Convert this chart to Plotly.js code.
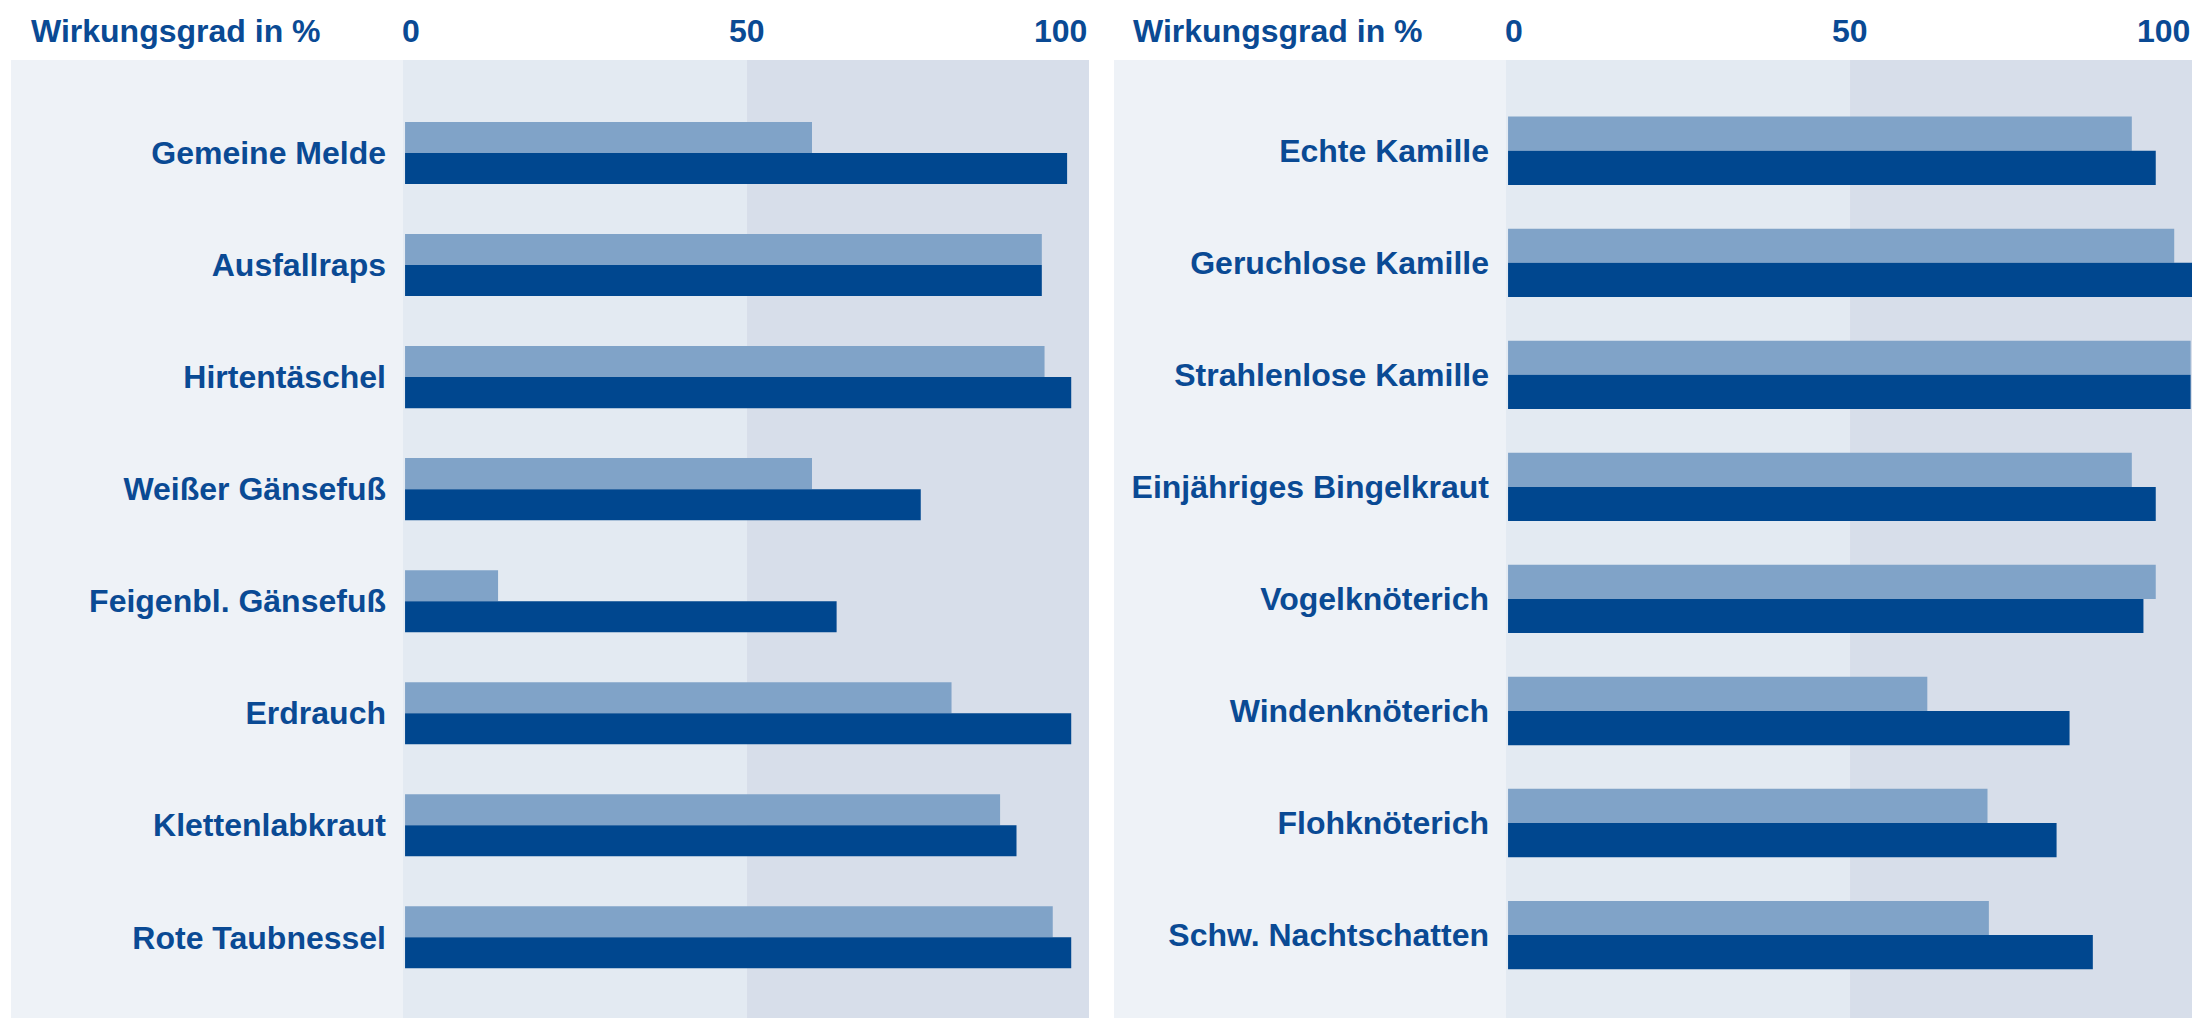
<!DOCTYPE html>
<html>
<head>
<meta charset="utf-8">
<script src="https://cdn.plot.ly/plotly-3.0.1.min.js"></script>
<style>
html,body{margin:0;padding:0;background:#fff;}
#chart{width:2192px;height:1018px;}
</style>
</head>
<body>
<div id="chart"></div>
<script>
// ---- data ----
const leftCategories = ["Gemeine Melde","Ausfallraps","Hirtentäschel","Weißer Gänsefuß","Feigenbl. Gänsefuß","Erdrauch","Klettenlabkraut","Rote Taubnessel"];
const leftLight = [59.5, 93.1, 93.5, 59.5, 13.6, 79.9, 87.0, 94.7];
const leftDark  = [96.8, 93.1, 97.4, 75.4, 63.1, 97.4, 89.4, 97.4];

const rightCategories = ["Echte Kamille","Geruchlose Kamille","Strahlenlose Kamille","Einjähriges Bingelkraut","Vogelknöterich","Windenknöterich","Flohknöterich","Schw. Nachtschatten"];
const rightLight = [91.2, 97.4, 99.8, 91.2, 94.7, 61.3, 70.1, 70.3];
const rightDark  = [94.7, 100.0, 99.8, 94.7, 92.9, 82.1, 80.2, 85.5];

const axisTitle = "Wirkungsgrad in %";
const tickValues = [0, 50, 100];
const tickLabels = ["0", "50", "100"];

// ---- styles ----
const FONT = "Liberation Sans Narrow, Arial Narrow, Liberation Sans, Arial, sans-serif";
const TXT = "#0a4a94";
const LIGHT = "#80a3c8";
const DARK = "#00478f";
const wL = 0.277, wR = 0.305;
const FS = 32;

function bar(cats, vals, color, xa, ya, w, off){
  return {type:"bar", orientation:"h", y:cats, x:vals, xaxis:xa, yaxis:ya,
    marker:{color:color, line:{width:0}}, width:w, offset:off, hoverinfo:"x+y", showlegend:false};
}

const data = [
  bar(leftCategories, leftLight, LIGHT, "x", "y", wL, -wL),
  bar(leftCategories, leftDark, DARK, "x", "y", wL, 0),
  bar(rightCategories, rightLight, LIGHT, "x2", "y2", wR, -wR),
  bar(rightCategories, rightDark, DARK, "x2", "y2", wR, 0)
];

const W = 2192, H = 1018;
const topY = (H-60)/H;
const dL = [403/W, 1089/W];
const dR = [1506/W, 1];

function yax(cats, anchor, rng){
  return {domain:[0, topY], anchor:anchor, type:"category", categoryarray:cats, categoryorder:"array",
    range:rng, showgrid:false, zeroline:false, showline:false, ticks:"",
    ticklabelstandoff:16, tickfont:{family:FONT, size:FS, color:TXT, weight:"bold"}, fixedrange:true};
}
function xax(dom, anchor){
  return {domain:dom, anchor:anchor, range:[-0.3, 100], showgrid:false, zeroline:false, showline:false,
    showticklabels:false, ticks:"", fixedrange:true};
}

const shapes = [];
// label backgrounds
shapes.push({type:"rect", xref:"paper", yref:"paper", x0:11/W, x1:403/W, y0:0, y1:topY, fillcolor:"#eef2f7", line:{width:0}, layer:"below"});
shapes.push({type:"rect", xref:"paper", yref:"paper", x0:1114/W, x1:1506/W, y0:0, y1:topY, fillcolor:"#eef2f7", line:{width:0}, layer:"below"});
// plot halves
["x","x2"].forEach(xr=>{
  shapes.push({type:"rect", xref:xr, yref:"paper", x0:-0.3, x1:50, y0:0, y1:topY, fillcolor:"#e3eaf2", line:{width:0}, layer:"below"});
  shapes.push({type:"rect", xref:xr, yref:"paper", x0:50, x1:100, y0:0, y1:topY, fillcolor:"#d7deea", line:{width:0}, layer:"below"});
});

const annotations = [];
const hdrY = 1 - 31/H;
const hfont = {family:FONT, size:FS, color:TXT, weight:"bold"};
annotations.push({xref:"paper", yref:"paper", x:29/W, y:hdrY, xanchor:"left", yanchor:"middle", text:axisTitle, showarrow:false, font:hfont});
annotations.push({xref:"paper", yref:"paper", x:1131/W, y:hdrY, xanchor:"left", yanchor:"middle", text:axisTitle, showarrow:false, font:hfont});
["x","x2"].forEach(xr=>{
  tickValues.forEach((v,i)=>{
    const anc = i===0 ? "left" : (i===tickValues.length-1 ? "right" : "center");
    annotations.push({xref:xr, yref:"paper", x:v, y:hdrY, xanchor:anc, yanchor:"middle", text:tickLabels[i],
      showarrow:false, font:hfont, xshift: i===0 ? -5 : 0});
  });
});

const layout = {
  width:W, height:H, margin:{l:0, r:0, t:0, b:0},
  paper_bgcolor:"#ffffff", plot_bgcolor:"rgba(0,0,0,0)",
  barmode:"overlay",
  xaxis:xax(dL, "y"), yaxis:yax(leftCategories, "x", [7.72, -0.83]),
  xaxis2:xax(dR, "y2"), yaxis2:yax(rightCategories, "x2", [7.74, -0.81]),
  shapes:shapes, annotations:annotations, showlegend:false
};

Plotly.newPlot("chart", data, layout, {displayModeBar:false, staticPlot:true});
</script>
</body>
</html>
